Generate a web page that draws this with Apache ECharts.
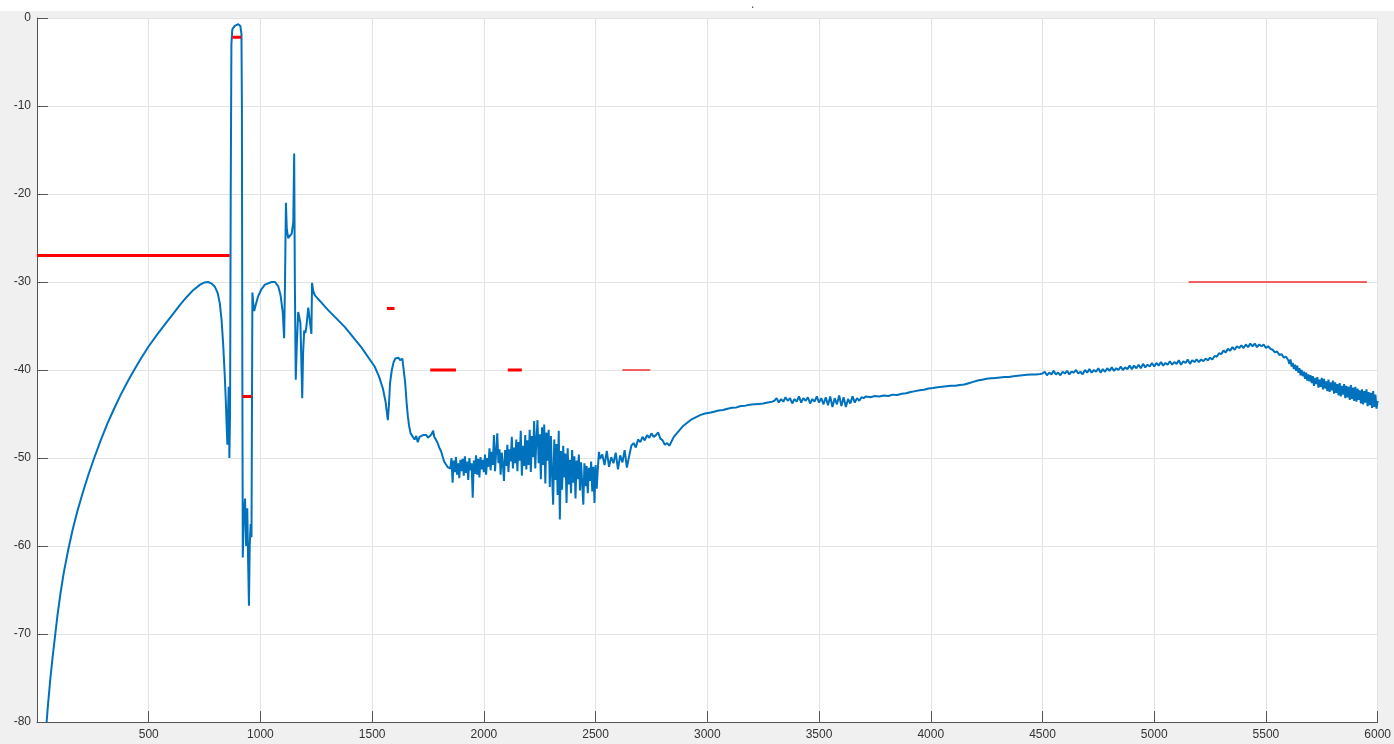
<!DOCTYPE html>
<html>
<head>
<meta charset="utf-8">
<script src="https://cdn.jsdelivr.net/npm/echarts@6/dist/echarts.min.js"></script>
<style>
html,body{margin:0;padding:0;}
body{background:linear-gradient(to bottom,#ffffff 0px,#ffffff 11px,#f0f0f0 11px,#f0f0f0 100%);}
#c{width:1394px;height:744px;}
</style>
</head>
<body>
<div id="c"></div>
<script>
// ---- data ----
const xTicks = [500,1000,1500,2000,2500,3000,3500,4000,4500,5000,5500,6000];
const yTicks = [0,-10,-20,-30,-40,-50,-60,-70,-80];

// explicit [frequency, level] points of the blue trace (smooth + resonance part)
const tracePairs = [
 [43,-80],[50,-77.8],[60,-75.0],[70,-72.6],[80,-70.4],[92,-67.8],[105,-65.4],[120,-63.0],[140,-60.4],[160,-58.1],
 [180,-56.1],[204,-54.0],[230,-51.9],[256,-50.0],[285,-48.0],[315,-46.1],[345,-44.4],[375,-42.8],[410,-41.1],[442,-39.7],
 [470,-38.5],[500,-37.3],[540,-35.9],[576,-34.7],[610,-33.6],[640,-32.6],[670,-31.7],[700,-30.9],[730,-30.3],[750,-30.05],
 [765,-30.0],[780,-30.15],[795,-30.5],[808,-31.2],[818,-32.4],[826,-34.3],[833,-37.0],[840,-40.5],[845,-43.5],[849,-46.5],
 [852,-48.5],[856,-44],[858,-41.9],[861,-50.0],[864,-45],[867,-20],[870,-3],
 [874,-1.3],[885,-0.9],[901,-0.7],[910,-0.9],[915,-1.8],[917,-10],[919,-40],[921,-61.3],[925,-57],[931,-54.6],
 [936,-60],[941,-55.7],[945,-62],[948.6,-66.8],[952,-60],[956,-57.5],[960,-59],[962,-45],[964,-31.2],[968,-32.5],
 [972,-33.3],[980,-32.5],[990,-31.6],[1005,-30.8],[1020,-30.3],[1050,-30.0],[1065,-30.0],[1080,-30.5],[1090,-31.5],[1100,-33.5],
 [1106,-36.4],[1110,-30],[1114,-21.0],[1118,-24],[1124,-25.0],[1130,-25],[1140,-24.5],[1147,-23.2],[1151,-15.4],[1154,-30],
 [1158,-41.1],[1163,-37],[1169,-33.4],[1174,-34],[1179,-34.7],[1183,-39],[1187,-43.2],[1191,-38],[1196,-35.5],[1201,-35.8],
 [1206,-35],[1214,-32.9],[1222,-32.7],[1228,-35.9],[1231,-30.1],[1236,-31],[1243,-31.5],[1303,-33.2],[1377,-35.1],[1451,-37.4],
 [1511,-39.6],[1530,-40.7],[1548,-42.1],[1560,-43.6],[1570,-45.7],[1575,-44],[1580,-41.5],[1588,-40],[1595,-39.2],[1603,-38.7],
 [1610,-38.9],[1618,-38.6],[1625,-38.9],[1635,-38.7],[1642,-38.9],[1648,-41.5],[1655,-44],[1660,-45.3],[1665,-46.3],[1672,-47.2],
 [1682,-47.6],[1690,-47.9],[1697,-47.5],[1704,-48.2],[1712,-47.6],[1720,-47.8],[1728,-47.4],[1734,-47.6],[1742,-47.4],[1750,-47.7],
 [1758,-47.5],[1766,-47.3],[1773,-46.9],[1778,-47.6],[1785,-47.9],[1793,-48.3],[1800,-48.8],[1808,-49.2],[1815,-49.8],[1822,-50.4],
 [1830,-50.6],[1837,-51.0],[1845,-51.1]
];

// noisy band 1850..2520, every 5
const noisyStart = 1850, noisyStep = 5;
const noisyLevels = [
 -51.2,-50.0,-52.8,-50.3,-51.6,-49.9,-51.9,-50.6,-52.3,-50.2,
 -51.5,-50.1,-52.0,-49.8,-51.7,-50.4,-52.5,-50.0,-51.4,-50.6,
 -54.5,-50.3,-51.8,-49.7,-51.9,-50.1,-52.2,-49.9,-51.3,-50.2,
 -51.6,-49.6,-51.9,-50.0,-51.0,-48.9,-51.4,-49.3,-50.8,-47.4,
 -51.5,-49.2,-47.2,-50.6,-49.0,-51.9,-49.4,-50.7,-52.6,-49.1,
 -50.9,-48.5,-51.6,-49.0,-50.4,-47.6,-51.2,-48.8,-50.6,-47.9,
 -51.5,-48.2,-50.3,-46.9,-52.0,-48.6,-50.9,-47.4,-51.3,-48.0,
 -50.8,-46.8,-51.6,-47.5,-49.9,-45.8,-51.2,-47.9,-45.7,-50.6,
 -47.3,-52.4,-46.5,-50.8,-46.2,-52.9,-47.1,-50.3,-46.8,-53.3,
 -47.5,-51.8,-55.3,-47.9,-52.5,-48.4,-54.2,-46.9,-57.0,-49.2,
 -53.6,-48.6,-52.2,-49.5,-55.1,-48.9,-53.0,-50.2,-54.0,-49.1,
 -52.8,-49.8,-54.6,-50.3,-52.4,-49.6,-53.7,-50.5,-52.9,-55.3,
 -50.6,-53.2,-50.9,-54.0,-51.1,-52.6,-50.4,-53.8,-51.0,-55.1,
 -50.8,-53.5,-51.2,-49.3,-50.1
];

// 2530..2830, every 10
const midStart = 2530, midStep = 10;
const midLevels = [
 -49.6,-50.8,-49.2,-51.0,-49.9,-50.6,-49.4,-51.3,-49.7,-50.5,-49.1,-51.1,-49.8,-48.6,
 -48.3,-48.8,-47.9,-48.2,-47.6,-48.0,-47.4,-47.7,-47.2,-47.6,-47.4,-47.1,-47.8,-48.0,-48.5,-48.3,-48.6
];

// 2850..3290, every 20
const riseStart = 2850, riseStep = 20;
const riseLevels = [
 -47.6,-47.0,-46.4,-46.0,-45.6,-45.35,-45.1,-44.95,-44.85,-44.75,
 -44.6,-44.55,-44.4,-44.3,-44.25,-44.1,-44.05,-43.95,-43.9,-43.85,
 -43.8,-43.7,-43.6
];

// 3300..3700, every 10
const bumpyStart = 3300, bumpyStep = 10;
const bumpyLevels = [
 -43.5,-43.2,-43.7,-43.3,-43.6,-43.1,-43.5,-43.2,-43.8,-43.3,
 -43.6,-43.0,-43.7,-43.2,-43.5,-43.1,-43.8,-43.3,-43.6,-43.0,
 -43.7,-43.2,-43.9,-43.1,-44.0,-43.0,-44.2,-43.2,-43.9,-42.9,
 -44.1,-43.1,-44.2,-43.3,-43.8,-43.0,-43.7,-43.2,-43.5,-43.1,
 -43.2
];

// 3710..4490, every 20
const calmStart = 3710, calmStep = 20;
const calmLevels = [
 -43.0,-43.1,-42.95,-43.0,-42.9,-42.95,-42.8,-42.85,-42.7,-42.65,
 -42.5,-42.4,-42.3,-42.25,-42.1,-42.05,-41.95,-41.9,-41.85,-41.8,
 -41.8,-41.7,-41.65,-41.5,-41.35,-41.2,-41.1,-41.0,-40.95,-40.9,
 -40.85,-40.8,-40.8,-40.7,-40.65,-40.6,-40.55,-40.5,-40.5,-40.45
];

// 4500..5600, every 10
const humpStart = 4500, humpStep = 10;
const humpLevels = [
 -40.4,-40.2,-40.6,-40.3,-40.5,-40.1,-40.5,-40.3,-40.6,-40.2,
 -40.4,-40.1,-40.5,-40.2,-40.3,-40.0,-40.4,-40.2,-40.5,-40.0,
 -40.3,-39.9,-40.3,-40.0,-40.2,-39.8,-40.3,-39.9,-40.2,-39.8,
 -40.1,-39.7,-40.1,-39.8,-40.0,-39.6,-40.0,-39.7,-39.9,-39.5,
 -39.9,-39.5,-39.8,-39.4,-39.8,-39.3,-39.7,-39.4,-39.6,-39.2,
 -39.6,-39.2,-39.5,-39.1,-39.5,-39.2,-39.4,-39.0,-39.4,-39.1,
 -39.3,-38.9,-39.4,-39.0,-39.2,-38.8,-39.3,-38.9,-39.1,-38.8,
 -39.1,-38.8,-39.0,-38.7,-38.9,-38.6,-38.8,-38.4,-38.5,-38.1,
 -38.2,-37.8,-38.0,-37.6,-37.8,-37.4,-37.7,-37.3,-37.5,-37.2,
 -37.5,-37.1,-37.4,-37.0,-37.3,-37.0,-37.4,-37.1,-37.3,-37.1,
 -37.5,-37.3,-37.6,-37.7,-38.0,-37.9,-38.3,-38.2,-38.6,-38.5,
 -38.9
];

// 5605..6000, every 5
const tailStart = 5605, tailStep = 5;
const tailLevels = [
 -39.3,-38.8,-39.6,-39.2,-39.9,-39.4,-40.1,-39.5,-40.3,-39.8,
 -40.6,-40.0,-40.7,-40.2,-41.0,-40.3,-41.2,-40.5,-41.3,-40.6,
 -41.5,-40.7,-41.8,-40.9,-41.6,-40.8,-42.0,-41.1,-41.9,-40.9,
 -42.2,-41.0,-42.1,-41.3,-42.4,-41.1,-42.5,-41.4,-42.3,-41.2,
 -42.7,-41.4,-42.6,-41.6,-42.9,-41.5,-43.0,-41.8,-42.8,-41.6,
 -43.2,-41.8,-43.1,-41.9,-43.4,-41.7,-43.3,-42.0,-43.5,-41.9,
 -43.6,-42.1,-43.4,-42.3,-43.8,-42.2,-43.9,-42.4,-43.7,-42.2,
 -44.1,-42.5,-44.0,-42.6,-44.3,-42.4,-44.2,-42.8,-44.4,-43.5
];

// red limit segments
const thickStart = [0, 875, 920, 1566, 1760, 2107];
const thickEnd   = [862, 913, 960, 1600, 1875, 2170];
const thickLevel = [-27, -2.2, -43, -33, -40, -40];
const thinStart = [2620, 5154];
const thinEnd   = [2745, 5952];
const thinLevel = [-40, -30];

// ---- build ----
function expand(start, step, vals){ return vals.map((v,i)=>[start+i*step, v]); }
const trace = tracePairs
  .concat(expand(noisyStart, noisyStep, noisyLevels))
  .concat(expand(midStart, midStep, midLevels))
  .concat(expand(riseStart, riseStep, riseLevels))
  .concat(expand(bumpyStart, bumpyStep, bumpyLevels))
  .concat(expand(calmStart, calmStep, calmLevels))
  .concat(expand(humpStart, humpStep, humpLevels))
  .concat(expand(tailStart, tailStep, tailLevels));

const series = [{
  type:'line', data: trace, showSymbol:false, symbol:'none', animation:false,
  lineStyle:{color:'#0072BD', width:2}, z:2
}];
thickStart.forEach((s,i)=>{
  series.push({type:'line', data:[[s,thickLevel[i]],[thickEnd[i],thickLevel[i]]], symbol:'none', animation:false,
    lineStyle:{color:'#ff0000', width:3}, z:3});
});
thinStart.forEach((s,i)=>{
  series.push({type:'line', data:[[s,thinLevel[i]],[thinEnd[i],thinLevel[i]]], symbol:'none', animation:false,
    lineStyle:{color:'#f03030', width:1.3}, z:3});
});

const chart = echarts.init(document.getElementById('c'), null, {renderer:'canvas'});
chart.setOption({
  animation:false,
  backgroundColor:'transparent',
  title:{text:'.', left:746, top:-6, textStyle:{fontSize:12, color:'#444', fontWeight:'normal'}},
  grid:{left:37, right:14, top:18, bottom:22, show:true, backgroundColor:'#ffffff', borderWidth:0},
  xAxis:{
    type:'value', min:0, max:6000, interval:500,
    axisLine:{show:true, onZero:false, lineStyle:{color:'#555', width:1}},
    axisTick:{show:true, inside:true, length:11, lineStyle:{color:'#555'}},
    axisLabel:{show:true, showMinLabel:false, margin:7, color:'#333', fontSize:12, fontFamily:'Liberation Sans, Arial, sans-serif',
      formatter:(v)=> xTicks.includes(v) ? String(v) : ''},
    splitLine:{show:true, lineStyle:{color:'#e3e3e3', width:1}}
  },
  yAxis:{
    type:'value', min:-80, max:0, interval:10,
    axisLine:{show:true, onZero:false, lineStyle:{color:'#555', width:1}},
    axisTick:{show:true, inside:true, length:11, lineStyle:{color:'#555'}},
    axisLabel:{show:true, margin:6, color:'#333', fontSize:12, fontFamily:'Liberation Sans, Arial, sans-serif',
      formatter:(v)=> yTicks.includes(v) ? String(v) : ''},
    splitLine:{show:true, lineStyle:{color:'#e3e3e3', width:1}}
  },
  series: series
});
</script>
</body>
</html>
